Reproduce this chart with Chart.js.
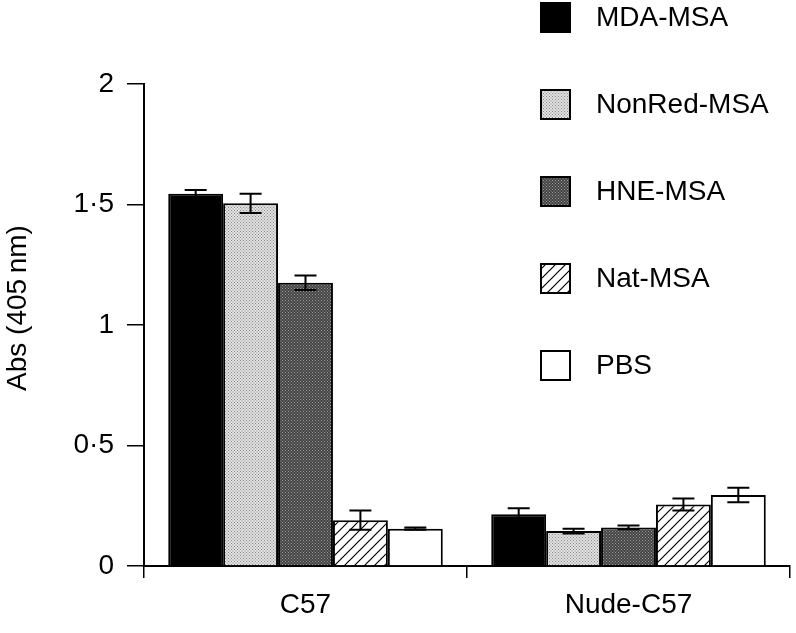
<!DOCTYPE html>
<html>
<head>
<meta charset="utf-8">
<script src="https://cdn.jsdelivr.net/npm/chart.js@4.4.0/dist/chart.umd.min.js"></script>
<style>
  html, body { margin: 0; padding: 0; background: #fff; }
  #wrap { width: 796px; height: 633px; }
</style>
</head>
<body>
<div id="wrap"><canvas id="barChart"></canvas></div>
<script>
// data
const categories = ['C57', 'Nude-C57'];
const seriesNames = ['MDA-MSA', 'NonRed-MSA', 'HNE-MSA', 'Nat-MSA', 'PBS'];
const mdaMsa = [1.545, 0.215];
const nonRedMsa = [1.505, 0.145];
const hneMsa = [1.175, 0.16];
const natMsa = [0.19, 0.255];
const pbs = [0.155, 0.295];
const errMdaMsa = [0.015, 0.025];
const errNonRedMsa = [0.04, 0.01];
const errHneMsa = [0.03, 0.008];
const errNatMsa = [0.04, 0.025];
const errPbs = [0.005, 0.03];
const yTicks = [0, 0.5, 1, 1.5, 2];
const yTitle = 'Abs (405\u2009nm)';

const FONT = '"Liberation Sans", Arial, Helvetica, sans-serif';
const FSIZE = 28;

function dotPattern(bg, dot, step) {
	const c = document.createElement('canvas');
	c.width = step; c.height = step;
	const g = c.getContext('2d');
	g.fillStyle = bg; g.fillRect(0, 0, step, step);
	g.fillStyle = dot;
	g.fillRect(0, 0, 1, 1);
	g.fillRect(step / 2, step / 2, 1, 1);
	return g.createPattern(c, 'repeat');
}
function hatchPattern() {
	const s = 10;
	const c = document.createElement('canvas');
	c.width = s; c.height = s;
	const g = c.getContext('2d');
	g.fillStyle = '#fff'; g.fillRect(0, 0, s, s);
	g.strokeStyle = '#000'; g.lineWidth = 1.2;
	g.beginPath();
	g.moveTo(0, s); g.lineTo(s, 0);
	g.moveTo(-2, 2); g.lineTo(2, -2);
	g.moveTo(s - 2, s + 2); g.lineTo(s + 2, s - 2);
	g.stroke();
	return g.createPattern(c, 'repeat');
}

const fills = [
	'#000',
	dotPattern('#e2e2e2', '#888', 3),
	dotPattern('#444', '#999', 3),
	hatchPattern(),
	'#fff'
];
const values = [mdaMsa, nonRedMsa, hneMsa, natMsa, pbs];
const errors = [errMdaMsa, errNonRedMsa, errHneMsa, errNatMsa, errPbs];

const errorBars = {
	id: 'errorBars',
	afterDatasetsDraw(chart) {
		const ctx = chart.ctx;
		const y = chart.scales.y;
		ctx.save();
		ctx.strokeStyle = '#000';
		ctx.lineWidth = 2;
		chart.data.datasets.forEach((ds, i) => {
			chart.getDatasetMeta(i).data.forEach((bar, j) => {
				const v = ds.data[j], e = errors[i][j];
				const top = y.getPixelForValue(v + e), bot = y.getPixelForValue(v - e);
				const x = bar.x, half = 11;
				ctx.beginPath();
				ctx.moveTo(x, top); ctx.lineTo(x, bot);
				ctx.moveTo(x - half, top); ctx.lineTo(x + half, top);
				ctx.moveTo(x - half, bot); ctx.lineTo(x + half, bot);
				ctx.stroke();
			});
		});
		ctx.restore();
	}
};

// legend boxes to the right + the y title
const extras = {
	id: 'extras',
	afterDraw(chart) {
		const ctx = chart.ctx;
		ctx.save();
		ctx.font = FSIZE + 'px ' + FONT;
		ctx.textBaseline = 'middle';
		seriesNames.forEach((name, i) => {
			const cy = 18 + i * 87;
			ctx.fillStyle = fills[i];
			ctx.fillRect(541, cy - 15, 29, 29);
			ctx.strokeStyle = '#000'; ctx.lineWidth = 2;
			ctx.strokeRect(541, cy - 15, 29, 29);
			ctx.fillStyle = '#000';
			ctx.fillText(name, 596, cy);
		});
		ctx.translate(18, 308);
		ctx.rotate(-Math.PI / 2);
		ctx.textAlign = 'center';
		ctx.fillText(yTitle, 0, 0);
		ctx.restore();
	}
};

new Chart(document.getElementById('barChart'), {
	type: 'bar',
	data: {
		labels: categories,
		datasets: seriesNames.map((name, i) => ({
			label: name,
			data: values[i],
			backgroundColor: fills[i],
			borderColor: '#000',
			borderWidth: 2,
			borderSkipped: 'bottom',
			barPercentage: 1,
			categoryPercentage: 0.85
		}))
	},
	options: {
		responsive: true,
		maintainAspectRatio: false,
		animation: false,
		layout: { padding: { top: 84, right: 6, left: 0, bottom: 0 } },
		plugins: { legend: { display: false }, tooltip: { enabled: false } },
		scales: {
			x: {
				offset: true,
				afterFit(scale) { scale.height = 67; },
				grid: { offset: true, drawOnChartArea: false, tickLength: 12, color: '#000', lineWidth: 1.5 },
				border: { color: '#000', width: 2 },
				ticks: { color: '#000', font: { family: FONT, size: FSIZE }, padding: 10 }
			},
			y: {
				min: 0,
				max: 2,
				afterFit(scale) { scale.width = 144; },
				afterBuildTicks(scale) { scale.ticks = yTicks.map(v => ({ value: v })); },
				grid: { drawOnChartArea: false, tickLength: 17, color: '#000', lineWidth: 1.5 },
				border: { color: '#000', width: 2 },
				ticks: {
					color: '#000',
					font: { family: FONT, size: FSIZE },
					padding: 13,
					callback: v => String(v).replace('.', '\u00b7')
				}
			}
		}
	},
	plugins: [errorBars, extras]
});
</script>
</body>
</html>
